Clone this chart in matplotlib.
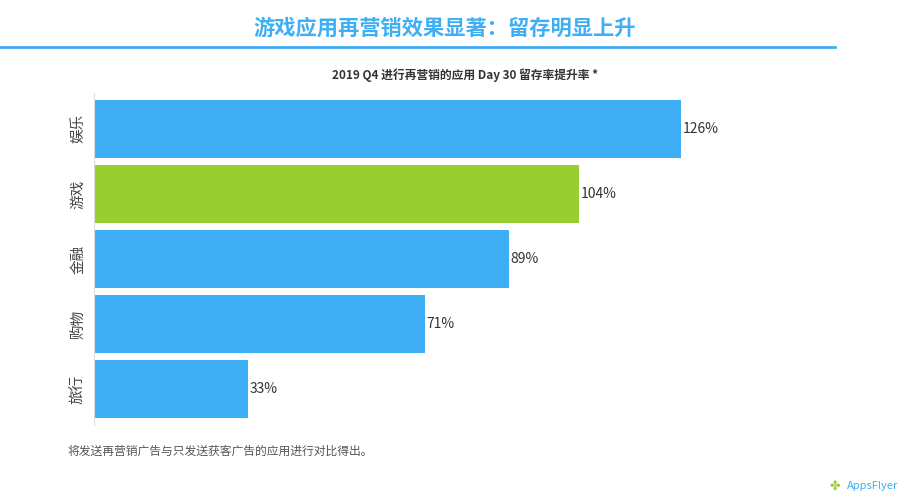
import matplotlib.pyplot as plt

plt.rcParams['font.family'] = ['Noto Sans CJK SC', 'DejaVu Sans']

# data
categories = ['娱乐', '游戏', '金融', '购物', '旅行']
values = [126, 104, 89, 71, 33]
colors = ['#3eaff4', '#9acd32', '#3eaff4', '#3eaff4', '#3eaff4']

fig = plt.figure(figsize=(9, 4.97), dpi=100)
ax = fig.add_axes([94 / 900, 1 - 425 / 497, 676 / 900, 332 / 497])

ax.barh(range(len(categories)), values, height=0.89, color=colors)
for i, v in enumerate(values):
    ax.text(v + 0.3, i, f'{v}%', va='center', ha='left', fontsize=10, color='#333333')

ax.set_xlim(0, 145)
ax.set_ylim(len(categories) - 0.45, -0.55)
ax.set_yticks(range(len(categories)))
ax.set_yticklabels(categories, rotation=90, va='center', fontsize=10.5, color='#444444')
ax.set_xticks([])
ax.tick_params(axis='y', length=0, pad=6)
for s in ['top', 'right', 'bottom']:
    ax.spines[s].set_visible(False)
ax.spines['left'].set_color('#dddddd')

# title and header line
fig.text(445 / 900, 1 - 28 / 497, '游戏应用再营销效果显著：留存明显上升', ha='center', va='center',
         fontsize=15.3, fontweight='bold', color='#3eaff4')
fig.add_artist(plt.Line2D([0, 835 / 900], [1 - 47 / 497] * 2, color='#3eaff4', lw=2))
fig.text(465 / 900, 1 - 75 / 497, '2019 Q4 进行再营销的应用 Day 30 留存率提升率 *', ha='center', va='center',
         fontsize=8.5, fontweight='bold', color='#333333')

# footnote
fig.text(68 / 900, 1 - 451 / 497, '将发送再营销广告与只发送获客广告的应用进行对比得出。', ha='left', va='center',
         fontsize=8.5, color='#555555')
fig.text(898 / 900, 1 - 486 / 497, 'AppsFlyer', ha='right', va='center', fontsize=8, color='#3eaff4')
fig.text(840 / 900, 1 - 486 / 497, '✤', ha='right', va='center', fontsize=9, color='#9acd32')

fig.savefig('out.png', dpi=100)
